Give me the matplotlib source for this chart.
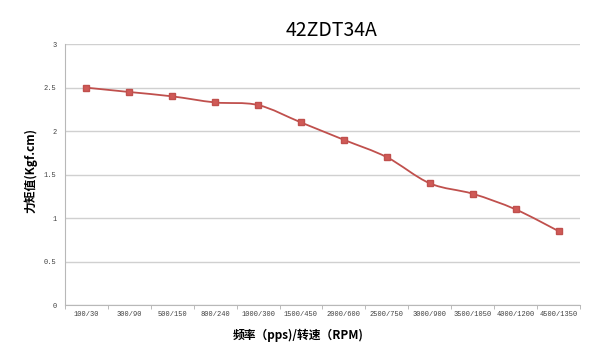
import matplotlib.pyplot as plt
from matplotlib.path import Path
from matplotlib.patches import PathPatch
import numpy as np

speeds = ['100/30', '300/90', '500/150', '800/240', '1000/300', '1500/450',
          '2000/600', '2500/750', '3000/900', '3500/1050', '4000/1200', '4500/1350']
torque = [2.5, 2.45, 2.4, 2.33, 2.3, 2.1, 1.9, 1.7, 1.4, 1.28, 1.1, 0.85]

LINE = '#c0504d'
GRID = '#d0d0d0'
CJK = ['Noto Sans CJK SC', 'DejaVu Sans']


def smooth_path(xs, ys):
    # bezier segments through the points, like a spreadsheet "smoothed line"
    pts = np.column_stack([xs, ys]).astype(float)
    n = len(pts)
    verts = [pts[0]]
    codes = [Path.MOVETO]
    for i in range(n - 1):
        p0 = pts[max(i - 1, 0)]
        p1 = pts[i]
        p2 = pts[i + 1]
        p3 = pts[min(i + 2, n - 1)]
        c1 = p1 + (p2 - p0) / 6.0
        c2 = p2 - (p3 - p1) / 6.0
        verts += [c1, c2, p2]
        codes += [Path.CURVE4] * 3
    return Path(verts, codes)


fig = plt.figure(figsize=(6, 3.59), dpi=100)
ax = fig.add_axes([0.108, 0.150, 0.859, 0.727])

x = np.arange(len(speeds))
ax.add_patch(PathPatch(smooth_path(x, torque), facecolor='none',
                       edgecolor=LINE, lw=1.3, zorder=3))
ax.plot(x, torque, linestyle='none', marker='s', markersize=4.5,
        color='#d05a57', markeredgecolor='#c0504d', zorder=4)

ax.set_xlim(-0.5, len(speeds) - 0.5)
ax.set_ylim(0, 3)
ax.set_yticks(np.arange(0, 3.01, 0.5))
ax.set_yticklabels(['0', '0.5', '1', '1.5', '2', '2.5', '3'],
                   fontsize=5, family='Liberation Mono', color='#404040')
ax.set_xticks(x)
ax.set_xticklabels(speeds, fontsize=5, family='Liberation Mono', color='#404040')
ax.set_xticks(np.arange(-0.5, len(speeds), 1.0), minor=True)
ax.tick_params(axis='x', which='major', length=0, pad=4)
ax.tick_params(axis='x', which='minor', length=3, color='#b0b0b0')
ax.tick_params(axis='y', length=0, pad=6)

ax.grid(axis='y', color=GRID, lw=1)
ax.set_axisbelow(True)
for side in ['top', 'right']:
    ax.spines[side].set_visible(False)
for side in ['left', 'bottom']:
    ax.spines[side].set_color('#b8b8b8')

fig.text(0.051, 0.524, '力矩值(Kgf.cm)', family=CJK, fontsize=8.5, fontweight='bold',
         rotation=90, ha='center', va='center')
fig.text(0.497, 0.067, '频率（pps)/转速（RPM)', family=CJK, fontsize=8.5,
         fontweight='bold', ha='center', va='center')
fig.text(0.553, 0.915, '42ZDT34A', family=CJK, fontsize=14, ha='center', va='center')

fig.savefig('out.png', dpi=100)
